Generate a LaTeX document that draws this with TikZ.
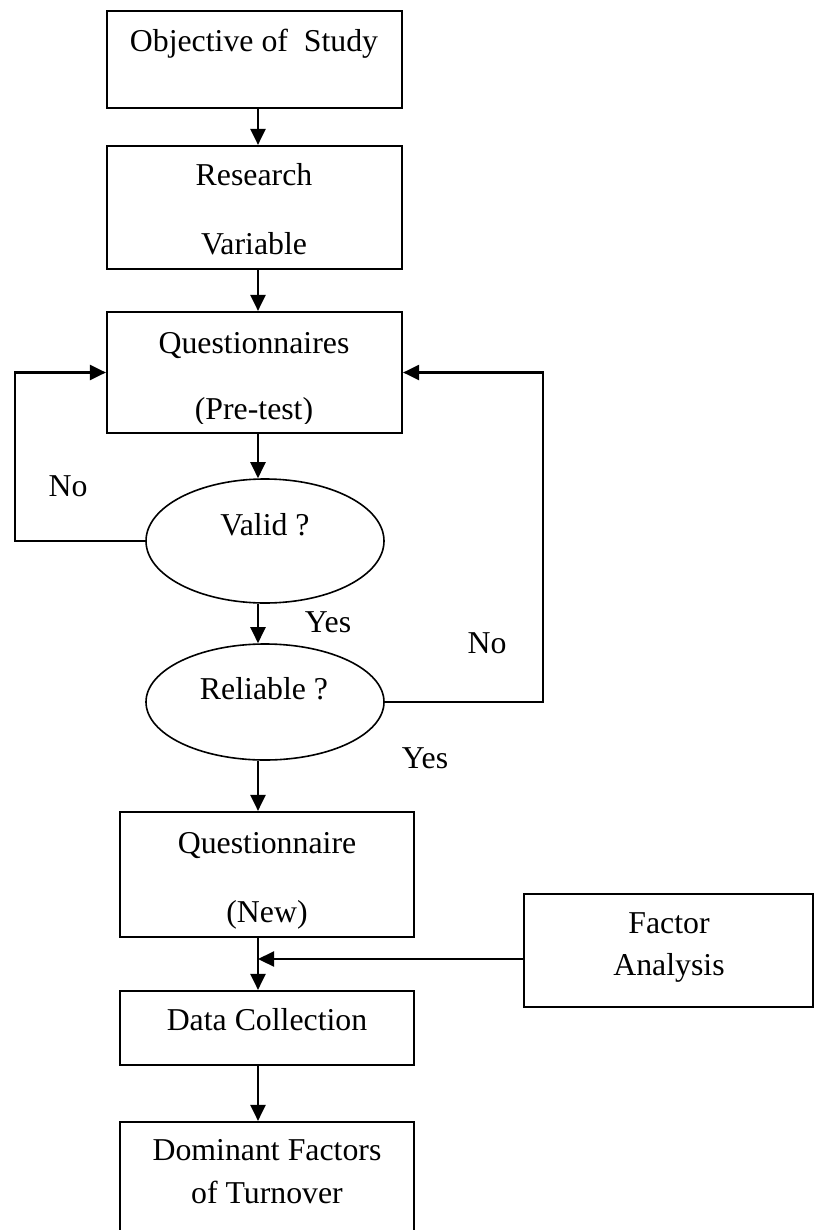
\documentclass[tikz,border=0pt]{standalone}
\usepackage{fontspec}
\setmainfont{Liberation Serif}
\usetikzlibrary{arrows.meta,shapes.geometric,fit}
\begin{document}
\begin{tikzpicture}[x=0.5pt,y=-0.5pt,
  box/.style={draw, line width=1.1pt, inner sep=0pt},
  oval/.style={draw, ellipse, line width=0.8pt, inner sep=0pt},
  lbl/.style={anchor=base, inner sep=0pt, font=\fontsize{15.9}{19}\selectfont},
  conn/.style={line width=1.1pt},
  arr/.style={conn, -{Triangle[length=8pt,width=7.5pt]}},
]
\useasboundingbox (0,0) rectangle (814,1230);
\clip (0,0) rectangle (814,1230);

% helper coordinates
\coordinate (axis) at (258,0);
\coordinate (lx) at (15,0);
\coordinate (rx) at (543,0);
\coordinate (fy) at (0,959);

% boxes
\node[box, fit={(107,11) (402,108)}] (b1) {};
\node[box, fit={(107,146) (402,269)}] (b2) {};
\node[box, fit={(107,312) (402,433)}] (b3) {};
\node[oval, minimum width=119pt, minimum height=62pt] (v) at (265,541) {};
\node[oval, minimum width=119pt, minimum height=58pt] (r) at (265,702) {};
\node[box, fit={(120,812) (414,937)}] (b4) {};
\node[box, fit={(524,894) (813,1007)}] (fa) {};
\node[box, fit={(120,991) (414,1065)}] (b5) {};
\node[box, fit={(120,1122) (414,1245)}] (b6) {};

% texts
\node[lbl] (t1) at (254,52) {Objective of \ Study};
\node[lbl] (t2a) at (254,186) {Research};
\node[lbl] (t2b) at (254,255) {Variable};
\node[lbl] (t3a) at (254,353) {Questionnaires};
\begin{scope}
  \clip (107,312) rectangle (402,423);
  \node[lbl] (t3b) at (254,419) {(Pre-test)};
\end{scope}
\node[lbl] (tv) at (265,535) {Valid ?};
\node[lbl] (tr) at (264,699) {Reliable ?};
\node[lbl] (no1) at (68,496) {No};
\node[lbl] (no2) at (487,653) {No};
\node[lbl] (yes1) at (328,632) {Yes};
\node[lbl] (yes2) at (425,768) {Yes};
\node[lbl] (t4a) at (267,853) {Questionnaire};
\node[lbl] (t4b) at (267,922) {(New)};
\node[lbl] (tfa) at (669,933) {Factor};
\node[lbl] (tfb) at (669,975) {Analysis};
\node[lbl] (t5) at (267,1030) {Data Collection};
\node[lbl] (t6a) at (267,1160) {Dominant Factors};
\node[lbl] (t6b) at (267,1203) {of Turnover};

% connectors
\draw[arr] (b1.south -| axis) -- (b2.north -| axis);
\draw[arr] (b2.south -| axis) -- (b3.north -| axis);
\draw[arr] (b3.south -| axis) -- (v.north -| axis);
\draw[arr] (v.south -| axis) -- (r.north -| axis);
\draw[arr] (r.south -| axis) -- (b4.north -| axis);
\draw[arr] (b4.south -| axis) -- (b5.north -| axis);
\draw[arr] (b5.south -| axis) -- (b6.north -| axis);
\draw[arr] (fa.west |- fy) -- (axis |- fy);
\draw[arr] (v.west) -- (lx |- v.west) -- (lx |- b3.west) -- (b3.west);
\draw[arr] (r.east) -- (rx |- r.east) -- (rx |- b3.east) -- (b3.east);
\end{tikzpicture}
\end{document}
